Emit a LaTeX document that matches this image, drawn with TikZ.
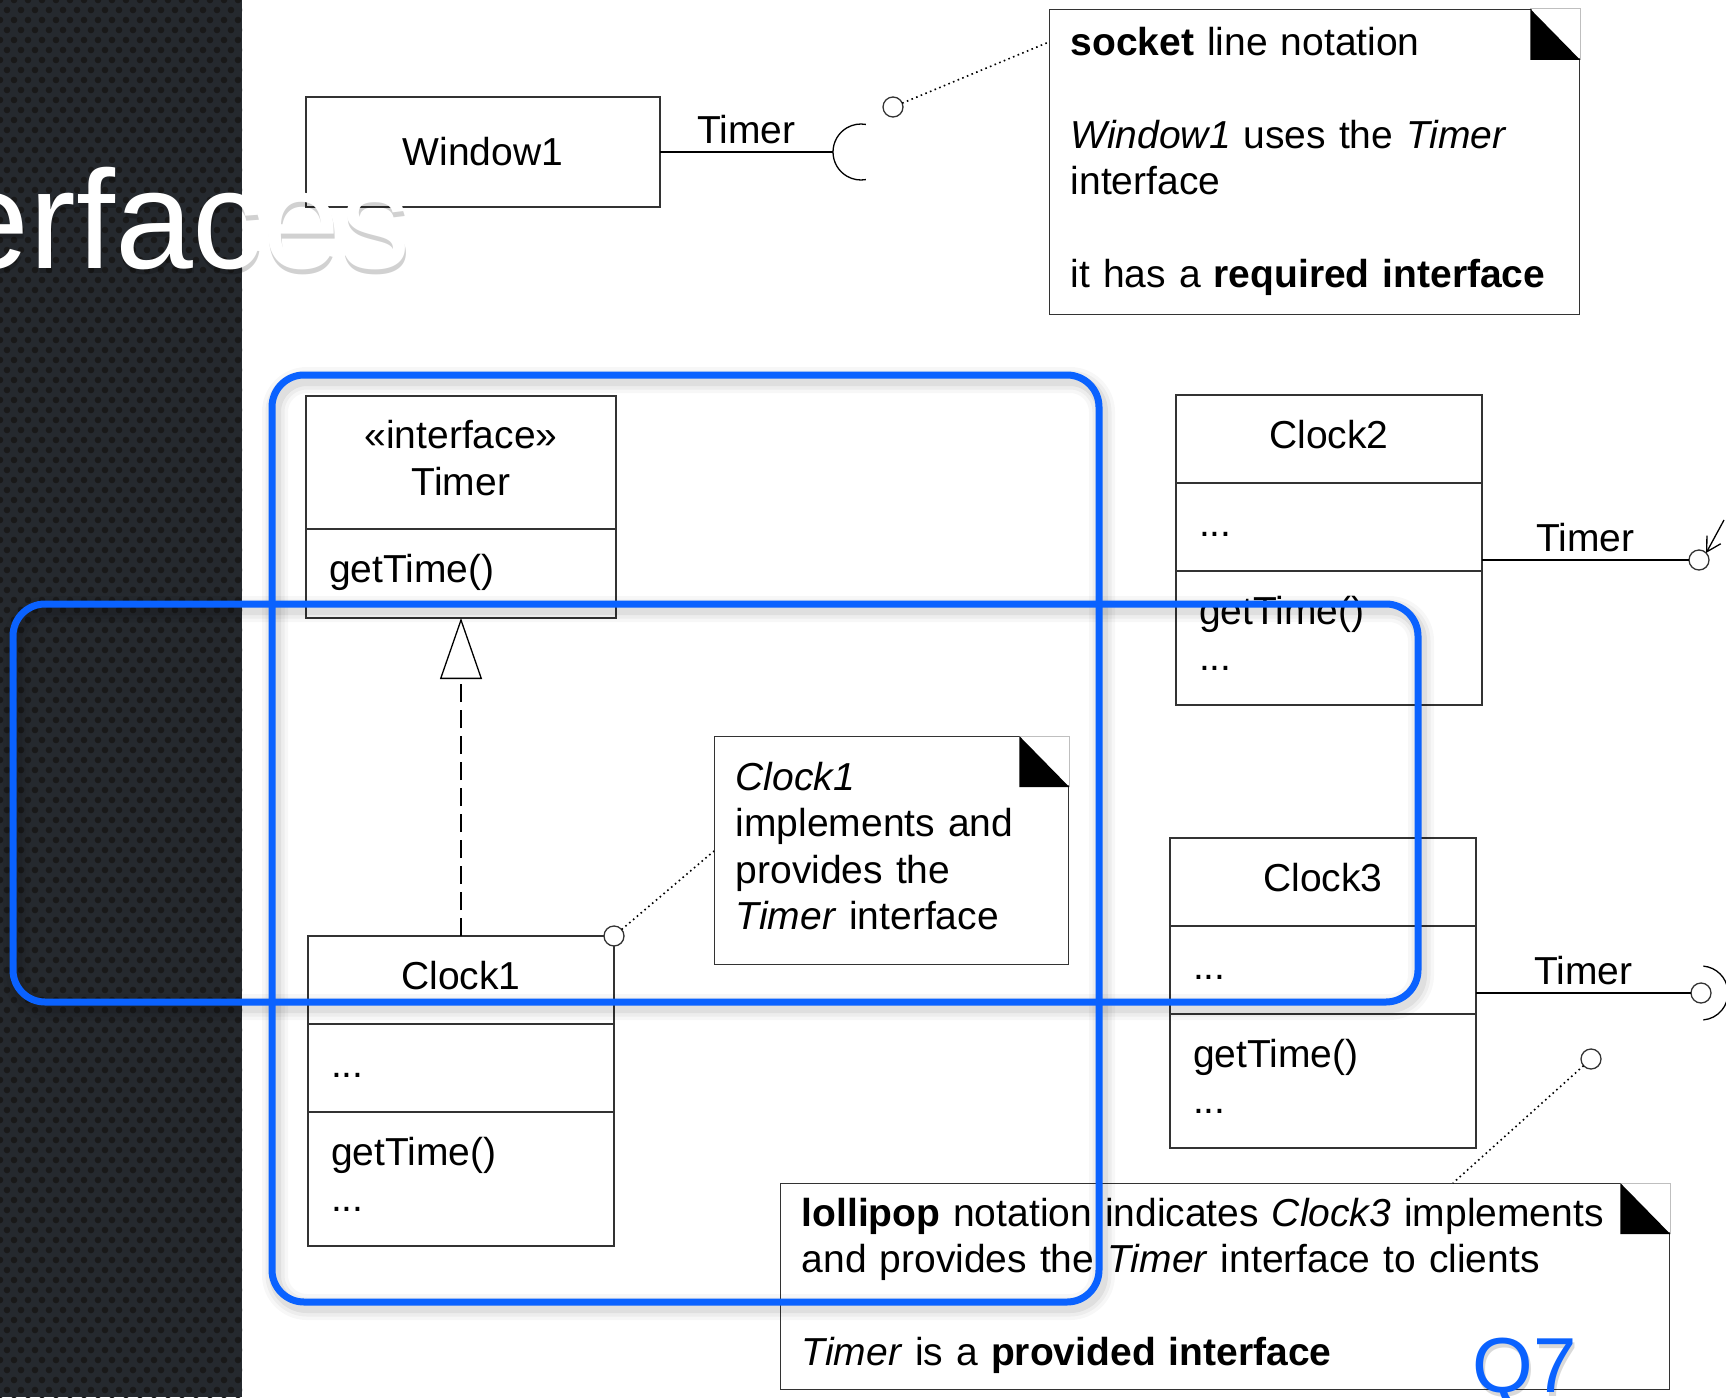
\documentclass[tikz,border=0pt]{standalone}
\usepackage{fontspec}
\setmainfont{Liberation Sans}
\usetikzlibrary{positioning, arrows.meta, calc}

\definecolor{slideblue}{HTML}{0A62FF}
\definecolor{panelgrey}{HTML}{25292E}

\newcommand{\umlfont}{\fontsize{39}{46.5}\selectfont}
\newcommand{\titlefont}{\fontsize{140}{140}\selectfont}
% folded corner of a note
\newcommand{\notefold}[1]{%
  \fill[white] ($(#1.north east)+(-50,-1)$) -- ($(#1.north east)+(1,-1)$) -- ($(#1.north east)+(1,51)$) -- cycle;
  \draw[black!25, line width=1pt] ($(#1.north east)+(-50,0)$) -- (#1.north east) -- ($(#1.north east)+(0,51)$);
  \fill ($(#1.north east)+(-50,0)$) -- ($(#1.north east)+(-50,51)$) -- ($(#1.north east)+(0,51)$) -- cycle;}

\tikzset{
  box/.style={draw=black!80, line width=1.3pt, outer sep=0pt, font=\umlfont},
  umlhead/.style={box, align=center, text width=260pt, inner xsep=23pt, inner ysep=0pt, minimum height=88pt},
  umlpart/.style={box, align=left, text width=260pt, inner xsep=23pt, inner ysep=0pt, minimum height=88pt},
  note/.style={draw=black!80, line width=1.3pt, font=\umlfont, align=left, inner xsep=21pt, inner ysep=0pt, anchor=north west},
  lolly/.style={circle, draw=black!80, line width=1.3pt, fill=white, minimum size=20pt, inner sep=0pt, outer sep=0pt},
  tlabel/.style={above=7pt, inner sep=0pt, font=\umlfont},
  notelink/.style={line width=1.6pt, dash pattern=on 1.6pt off 3.4pt},
  realize/.style={line width=1.3pt, dash pattern=on 18pt off 8pt, -{Triangle[open, length=61pt, width=42pt]}},
  hilite/.style={draw=slideblue, line width=7pt, rounded corners=32pt}
}

\begin{document}
\begin{tikzpicture}[x=1pt, y=-1pt, line width=1.3pt]
  \useasboundingbox (0,0) rectangle (1726,1397);
  \fill[white] (0,0) rectangle (1726,1397);

  % dark slide panel
  \begin{scope}
    \clip (0,0) rectangle (242,1397);
    \fill[panelgrey] (0,0) rectangle (242,1397);
    \foreach \r in {0,...,140}
      \foreach \c in {0,...,18}
        \fill[black!90] ({\c*14+mod(\r,2)*7}, {\r*10}) circle[radius=3.3pt];
  \end{scope}

  % required interface
  \node[box, minimum width=354pt, minimum height=110pt, anchor=north west] (win) at (306,97) {Window1};
  \coordinate (winsock) at (833,152);
  \draw (win.east) -- node[tlabel] {Timer} (winsock);
  \draw (winsock) arc[start angle=180, end angle=80, radius=28pt]
        (winsock) arc[start angle=180, end angle=280, radius=28pt];
  \node[lolly] (wincirc) at (893,107) {};

  \node[note, minimum width=530pt, minimum height=305pt, text width=488pt] (note1) at (1049,9)
    {\strut\textbf{socket} line notation\\[46.5pt]
     \textit{Window1} uses the \textit{Timer}\\
     interface\\[46.5pt]
     it has a \textbf{required interface}\strut};
  \notefold{note1}
  \draw[notelink] (wincirc) -- ($(note1.north west)+(0,33)$);

  % interface and realization
  \node[umlhead, text width=264pt, minimum height=133pt, anchor=north west] (tihead) at (306,396)
    {\strut«interface»\\Timer\strut};
  \node[umlpart, text width=264pt, minimum height=89pt, below=0pt of tihead] (tiops) {\strut getTime()};

  \node[umlhead, anchor=north west] (c1name) at (308,936) {\strut Clock1};
  \node[umlpart, below=0pt of c1name] (c1attr) {\strut ...};
  \node[umlpart, minimum height=134pt, below=0pt of c1attr] (c1ops) {\strut getTime()\\...\strut};
  \draw[realize] (c1name.north) -- (tiops.south);
  \node[lolly] (c1lolly) at (c1name.north east) {};

  \node[note, minimum width=354pt, minimum height=228pt, text width=312pt] (note2) at (714,736)
    {\strut\textit{Clock1}\\implements and\\provides the\\\textit{Timer} interface\strut};
  \notefold{note2}
  \draw[notelink] (c1lolly) -- ($(note2.north west)+(0,115)$);

  % Clock2
  \node[umlhead, anchor=north west] (c2name) at (1176,395) {\strut Clock2};
  \node[umlpart, below=0pt of c2name] (c2attr) {\strut ...};
  \node[umlpart, minimum height=134pt, below=0pt of c2attr] (c2ops) {\strut getTime()\\...\strut};
  \coordinate (c2port) at ($(c2attr.east)+(0,33)$);
  \node[lolly] (c2lolly) at (1699,560) {};
  \draw (c2port) -- node[tlabel] {Timer} (c2lolly);
  \coordinate (c2user) at (1724,520);
  \draw[-{Straight Barb[length=14pt, width=16pt]}] (c2user) .. controls (1716,536) .. (c2lolly.north east);

  % Clock3 with lollipop
  \node[umlhead, anchor=north west] (c3name) at (1170,838) {\strut Clock3};
  \node[umlpart, below=0pt of c3name] (c3attr) {\strut ...};
  \node[umlpart, minimum height=134pt, below=0pt of c3attr] (c3ops) {\strut getTime()\\...\strut};
  \coordinate (c3port) at ($(c3attr.east)+(0,23)$);
  \node[lolly] (c3lolly) at (1701,993) {};
  \draw (c3port) -- node[tlabel] {Timer} (c3lolly);
  \draw ([shift={(-85:27pt)}]c3lolly.center) arc[start angle=-85, end angle=85, radius=27pt];
  \node[lolly] (c3circ) at (1591,1059) {};

  \node[note, minimum width=889pt, minimum height=206pt, text width=847pt] (note3) at (780,1183)
    {\strut\textbf{lollipop} notation indicates \textit{Clock3} implements\\
     and provides the \textit{Timer} interface to clients\\[46.5pt]
     \textit{Timer} is a \textbf{provided interface}\strut};
  \notefold{note3}
  \draw[notelink] (c3circ) -- ($(note3.north west)+(673,0)$);

  % slide title
  \node[anchor=base west, font=\titlefont, text=black, text opacity=0.18, inner sep=0pt] at (-48,273) {erfaces};
  \node[anchor=base west, font=\titlefont, text=white, inner sep=0pt] (title) at (-49,268) {erfaces};

  % highlight frames
  \foreach \w/\o in {26/0.03, 19/0.04, 12/0.06} {
    \draw[black, opacity=\o, line width=\w pt, rounded corners=32pt] (275,380) rectangle (1102,1307);
    \draw[black, opacity=\o, line width=\w pt, rounded corners=32pt] (16,609) rectangle (1421,1007);
  }
  \draw[hilite] (272,375) rectangle (1099,1302);
  \draw[hilite] (13,604) rectangle (1418,1002);

  \node[anchor=base west, font=\fontsize{78}{78}\selectfont, text=black, text opacity=0.15, inner sep=0pt] at (1474,1396) {Q7};
  \node[anchor=base west, font=\fontsize{78}{78}\selectfont, text=slideblue, inner sep=0pt] (q7) at (1472,1392) {Q7};
\end{tikzpicture}
\end{document}
